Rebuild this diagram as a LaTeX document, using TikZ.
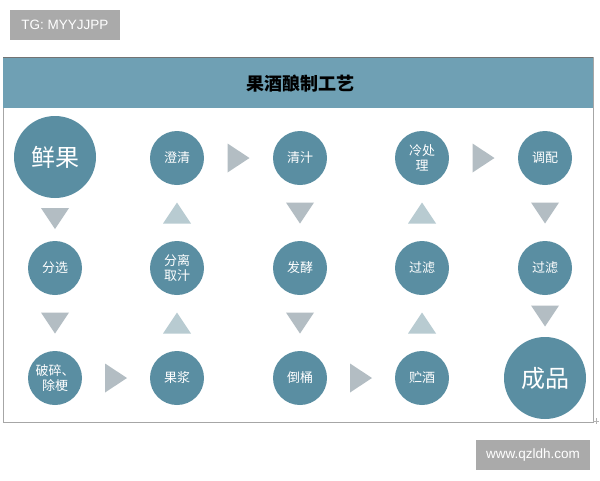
\documentclass[tikz,border=0pt]{standalone}
\usepackage{fontspec}
\setmainfont{Liberation Sans}
\newfontfamily\cjk{Noto Sans CJK SC}
\usetikzlibrary{calc}
\definecolor{hdr}{HTML}{6FA0B4}
\definecolor{circ}{HTML}{5A8EA2}
\definecolor{trig}{HTML}{B3BDC3}
\definecolor{trigu}{HTML}{B8CBD1}
\definecolor{badge}{HTML}{AAAAAA}
\tikzset{
  stepnode/.style={circle,fill=circ,minimum size=54pt,inner sep=0pt,text=white,
    font=\cjk\fontsize{13}{15}\selectfont,align=center},
  bignode/.style={circle,fill=circ,minimum size=82pt,inner sep=0pt,text=white,
    font=\cjk\fontsize{24}{26}\selectfont},
  badgebox/.style={fill=badge,text=white,inner sep=0pt,font=\fontsize{13.5}{15}\selectfont},
  downtri/.style={fill=trig},
  uptri/.style={fill=trigu},
}
\begin{document}
\begin{tikzpicture}[x=1pt,y=-1pt]
\useasboundingbox (0,0) rectangle (600,480);
\fill[white] (0,0) rectangle (600,480);
% badges
\node[badgebox,minimum width=110pt,minimum height=30pt] (tg) at (65,25) {TG: MYYJJPP};
\node[badgebox,minimum width=114pt,minimum height=30pt] (www) at (533,455) {www.qzldh.com};
% frame
\draw[gray!70,line width=0.8pt] (3,57) rectangle (593,422);
\fill[hdr] (3.4,57.4) rectangle (592.6,107.5);
\draw[gray!90!black,line width=0.8pt] (3,57) -- (593,57);
\node[font=\cjk\bfseries\fontsize{18}{20}\selectfont,text=black] (title) at (300,84) {果酒酿制工艺};
\draw[gray!60] (593,421) -- (599,421) (596,418) -- (596,424);
% nodes
\node[bignode] (xg) at (55,157) {鲜果};
\node[stepnode] (fx) at (55,268) {分选};
\node[stepnode] (ps) at (55,378) {破碎、\\除梗};
\node[stepnode] (cq) at (177,158) {澄清};
\node[stepnode] (fl) at (177,268) {分离\\取汁};
\node[stepnode] (gj) at (177,378) {果浆};
\node[stepnode] (qz) at (300,158) {清汁};
\node[stepnode] (fj) at (300,268) {发酵};
\node[stepnode] (dt) at (300,378) {倒桶};
\node[stepnode] (lc) at (422,158) {冷处\\理};
\node[stepnode] (gl1) at (422,268) {过滤};
\node[stepnode] (zj) at (422,378) {贮酒};
\node[stepnode] (tp) at (545,158) {调配};
\node[stepnode] (gl2) at (545,268) {过滤};
\node[bignode] (cp) at (545,378) {成品};
% down triangles
\fill[downtri] ($(xg)!0.5!(fx)+(0,6)$) ++(-14,-10.5) -- ++(28,0) -- ++(-14,21) -- cycle;
\fill[downtri] ($(fx)!0.5!(ps)$) ++(-14,-10.5) -- ++(28,0) -- ++(-14,21) -- cycle;
\fill[downtri] ($(qz)!0.5!(fj)$) ++(-14,-10.5) -- ++(28,0) -- ++(-14,21) -- cycle;
\fill[downtri] ($(fj)!0.5!(dt)$) ++(-14,-10.5) -- ++(28,0) -- ++(-14,21) -- cycle;
\fill[downtri] ($(tp)!0.5!(gl2)$) ++(-14,-10.5) -- ++(28,0) -- ++(-14,21) -- cycle;
\fill[downtri] ($(gl2)!0.5!(cp)+(0,-7)$) ++(-14,-10.5) -- ++(28,0) -- ++(-14,21) -- cycle;
% up triangles
\fill[uptri] ($(fl)!0.5!(cq)$) ++(-14,10.5) -- ++(28,0) -- ++(-14,-21) -- cycle;
\fill[uptri] ($(gj)!0.5!(fl)$) ++(-14,10.5) -- ++(28,0) -- ++(-14,-21) -- cycle;
\fill[uptri] ($(gl1)!0.5!(lc)$) ++(-14,10.5) -- ++(28,0) -- ++(-14,-21) -- cycle;
\fill[uptri] ($(zj)!0.5!(gl1)$) ++(-14,10.5) -- ++(28,0) -- ++(-14,-21) -- cycle;
% right triangles
\fill[downtri] ($(ps)!0.5!(gj)$) ++(-11,-14.5) -- ++(0,29) -- ++(22,-14.5) -- cycle;
\fill[downtri] ($(cq)!0.5!(qz)$) ++(-11,-14.5) -- ++(0,29) -- ++(22,-14.5) -- cycle;
\fill[downtri] ($(dt)!0.5!(zj)$) ++(-11,-14.5) -- ++(0,29) -- ++(22,-14.5) -- cycle;
\fill[downtri] ($(lc)!0.5!(tp)$) ++(-11,-14.5) -- ++(0,29) -- ++(22,-14.5) -- cycle;
\end{tikzpicture}
\end{document}
